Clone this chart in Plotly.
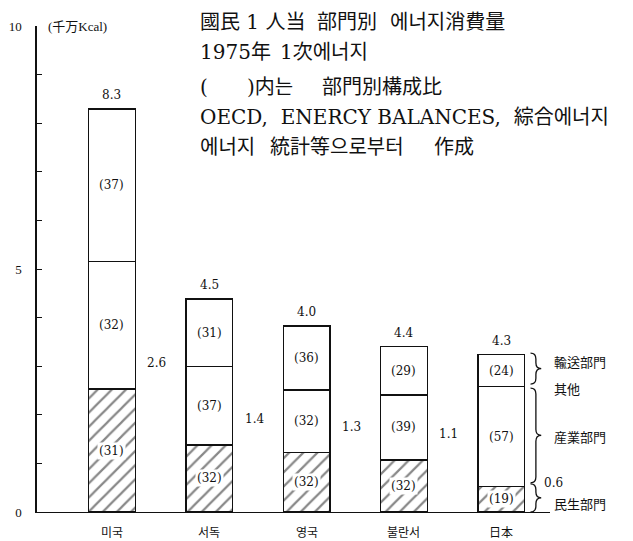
import plotly.graph_objects as go

# ---- data (千万Kcal) ----
countries = ["미국", "서독", "영국", "불란서", "日本"]
residential = [2.53, 1.38, 1.22, 1.07, 0.52]   # 民生部門 (hatched)
industry = [2.63, 1.61, 1.29, 1.34, 2.06]      # 産業部門
transport = [3.13, 1.39, 1.32, 0.99, 0.66]     # 輸送部門
share_res = [31, 32, 32, 32, 19]
share_ind = [32, 37, 32, 39, 57]
share_tra = [37, 31, 36, 29, 24]
total_labels = ["8.3", "4.5", "4.0", "4.4", "4.3"]
residential_labels = ["2.6", "1.4", "1.3", "1.1", "0.6"]
y_tick_vals = list(range(0, 11))
y_tick_text = ["0", "", "", "", "", "5", "", "", "", "", "10"]

SERIF = "DejaVu Serif, Noto Sans CJK KR, serif"
LSERIF = "Liberation Serif, Noto Sans CJK KR, serif"
CJK = "Noto Sans CJK KR, sans-serif"

# page geometry (page body has an 8px margin)
OFF = 8
PAGE_W, PAGE_H = 633, 541
PL, PT, PR, PB = 37, 26, 550, 512          # plot area in page px
PW, PH = PR - PL, PB - PT
FIG_W, FIG_H = PAGE_W - OFF, PAGE_H - OFF
M_L, M_T = PL - OFF, PT - OFF
M_R, M_B = FIG_W - M_L - PW, FIG_H - M_T - PH


def px_x(p):
    return (p - PL) / PW


def px_y(p):
    return (PB - p) / PH


xs = list(range(len(countries)))
BW = 0.48
line = dict(color="#111", width=1.4)

fig = go.Figure()
fig.add_trace(go.Bar(x=xs, y=residential, width=BW,
                     marker=dict(color="white", line=line,
                                 pattern=dict(shape="/", fgcolor="#111", bgcolor="white",
                                              size=10, solidity=0.22)),
                     hoverinfo="skip"))
fig.add_trace(go.Bar(x=xs, y=industry, width=BW,
                     marker=dict(color="white", line=line), hoverinfo="skip"))
fig.add_trace(go.Bar(x=xs, y=transport, width=BW,
                     marker=dict(color="white", line=line), hoverinfo="skip"))

ann = []
for i in xs:
    r, n, t = residential[i], industry[i], transport[i]
    tot = r + n + t
    for k, (mid, sh) in enumerate(((r / 2, share_res[i]), (r + n / 2, share_ind[i]),
                                   (r + n + t / 2, share_tra[i]))):
        a = dict(x=i, y=mid, xref="x", yref="y", text=f"({sh})", showarrow=False,
                 font=dict(family=SERIF, size=12, color="#111"))
        if k == 0:
            a["bgcolor"] = "white"
        ann.append(a)
    ann.append(dict(x=i, y=tot, xref="x", yref="y", text=total_labels[i], showarrow=False,
                    yshift=14, font=dict(family=SERIF, size=12, color="#111")))
    ann.append(dict(x=i, y=0, xref="x", yref="y", text=countries[i], showarrow=False,
                    yshift=-19, font=dict(family=CJK, size=12, color="#111")))
    if i < len(xs) - 1:
        ann.append(dict(x=i + 0.46, y=r, xref="x", yref="y", text=residential_labels[i],
                        showarrow=False, yshift=26, font=dict(family=SERIF, size=12, color="#111")))

# braces and sector labels next to the last bar
j = len(xs) - 1
r, n, t = residential[j], industry[j], transport[j]
bx0, bw = j + 0.30, 0.11


def brace(yt, yb):
    xm = bx0 + bw * 0.5
    ym = (yt + yb) / 2
    d = 0.12
    return (f"M {bx0},{yt} Q {xm},{yt} {xm},{yt - d} L {xm},{ym + d} "
            f"Q {xm},{ym} {bx0 + bw},{ym} Q {xm},{ym} {xm},{ym - d} "
            f"L {xm},{yb + d} Q {xm},{yb} {bx0},{yb}")


shapes = [
    dict(type="path", path=brace(r + n + t + 0.03, r + n + 0.05), xref="x", yref="y",
         line=dict(color="#111", width=1.3)),
    dict(type="path", path=brace(r + n - 0.03, r + 0.08), xref="x", yref="y",
         line=dict(color="#111", width=1.3)),
    dict(type="path", path=brace(r + 0.06, 0.0), xref="x", yref="y",
         line=dict(color="#111", width=1.3)),
]

side = [("輸送部門", r + n + t / 2, 9), ("其他", r + n, -2), ("産業部門", r + n / 2, 0),
        ("民生部門", r / 2, -4)]
for txt, yy, ys in side:
    ann.append(dict(x=bx0 + bw, y=yy, xref="x", yref="y", text=txt, showarrow=False,
                    xanchor="left", xshift=11, yshift=ys,
                    font=dict(family=CJK, size=13, color="#111")))
ann.append(dict(x=bx0 + bw, y=r, xref="x", yref="y", text=residential_labels[j], showarrow=False,
                xanchor="left", xshift=1, yshift=4, font=dict(family=SERIF, size=12, color="#111")))

# unit
ann.append(dict(x=px_x(46), y=10, xref="paper", yref="y", text="(千万Kcal)", showarrow=False,
                xanchor="left", font=dict(family=LSERIF, size=13, color="#111")))

# title block
title_pieces = [
    ("國民 1 人当", 198, 22), ("部門別", 315, 22), ("에너지消費量", 388, 22),
    ("1975年", 198, 52), ("1次에너지", 278, 52),
    ("(", 198, 87), (")内는", 245, 87), ("部門別構成比", 320, 87),
    ("OECD,  ENERCY BALANCES,  綜合에너지", 198, 117),
    ("에너지", 198, 147), ("統計等으로부터", 268, 147), ("作成", 432, 147),
]
for txt, px, py in title_pieces:
    ann.append(dict(x=px_x(px), y=px_y(py), xref="paper", yref="paper", text=txt,
                    showarrow=False, xanchor="left", yanchor="middle",
                    font=dict(family=SERIF, size=20, color="#111")))

fig.update_layout(
    barmode="stack", showlegend=False, width=FIG_W, height=FIG_H,
    margin=dict(l=M_L, r=M_R, t=M_T, b=M_B, autoexpand=False),
    paper_bgcolor="white", plot_bgcolor="white",
    annotations=ann, shapes=shapes,
    xaxis=dict(range=[-0.77, 4.5], showgrid=False, zeroline=False, showticklabels=False,
               ticks="", showline=True, linecolor="#111", linewidth=1.3, fixedrange=True,
               automargin=False),
    yaxis=dict(range=[0, 10], tickvals=y_tick_vals, ticktext=y_tick_text, ticks="inside",
               ticklen=5, tickcolor="#111", tickwidth=1.3, showgrid=False, zeroline=False,
               showline=True, linecolor="#111", linewidth=1.5, ticklabelstandoff=11,
               tickfont=dict(family=LSERIF, size=13, color="#111"), fixedrange=True,
               automargin=False),
)

fig.write_html("out.html")
